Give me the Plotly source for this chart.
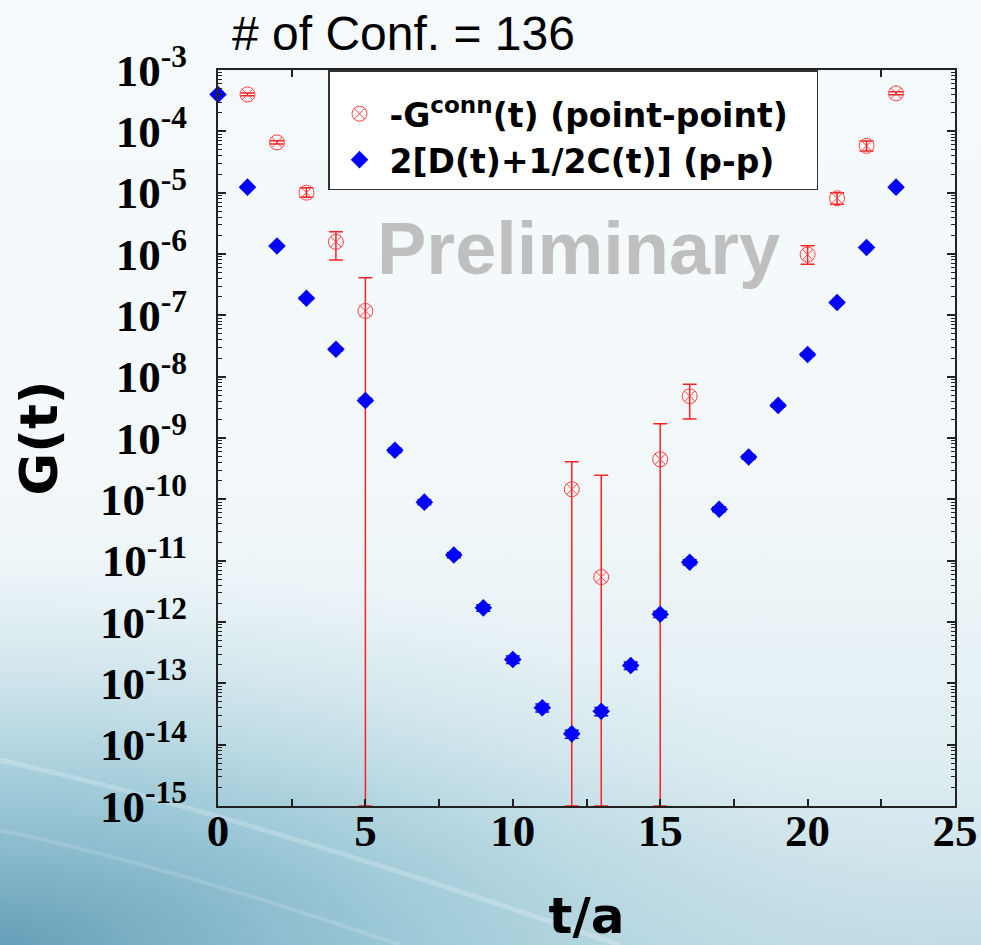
import base64
import plotly.graph_objects as go

# ---------------- data ----------------
t_vals = list(range(24))
blue_y = [4.0e-4, 1.23e-5, 1.35e-6, 1.9e-7, 2.8e-8, 4.1e-9, 6.3e-10, 9.0e-11,
          1.24e-11, 1.7e-12, 2.45e-13, 4.0e-14, 1.5e-14, 3.5e-14, 1.95e-13,
          1.34e-12, 9.4e-12, 6.9e-11, 4.9e-10, 3.4e-9, 2.3e-8, 1.62e-7,
          1.28e-6, 1.23e-5]
blue_err_rel = [0.02, 0.03, 0.04, 0.05, 0.06, 0.07, 0.08, 0.09, 0.10, 0.12,
                0.14, 0.15, 0.15, 0.15, 0.14, 0.12, 0.10, 0.09, 0.08, 0.07,
                0.06, 0.05, 0.04, 0.03]

red_t = [1, 2, 3, 4, 5, 12, 13, 15, 16, 20, 21, 22, 23]
red_y = [4.0e-4, 6.6e-5, 1.0e-5, 1.58e-6, 1.18e-7, 1.46e-10, 5.4e-12,
         4.5e-10, 4.8e-9, 9.8e-7, 8.1e-6, 5.8e-5, 4.17e-4]
red_hi = [4.2e-4, 7.0e-5, 1.2e-5, 2.3e-6, 4.1e-7, 4.1e-10, 2.47e-10,
          1.7e-9, 7.55e-9, 1.36e-6, 1.0e-5, 6.95e-5, 4.4e-4]
# None: lower end of the error bar falls below zero (off the log scale)
red_lo = [3.8e-4, 6.2e-5, 8.4e-6, 8.0e-7, None, None, None, None, 2.05e-9,
          6.8e-7, 6.5e-6, 4.8e-5, 3.95e-4]

x_ticks = [0, 5, 10, 15, 20, 25]
y_exps = list(range(-15, -2))
y_ticktext = ["10<sup>%d</sup>" % e for e in y_exps]

Y_MIN_EXP, Y_MAX_EXP = -15, -3
y_floor = 10.0 ** Y_MIN_EXP

# ---------------- background (decorative gradient) ----------------
W, H = 981, 945
svg = f"""<svg xmlns='http://www.w3.org/2000/svg' width='{W}' height='{H}' viewBox='0 0 {W} {H}'>
<defs>
<linearGradient id='v' x1='0' y1='0' x2='0' y2='1'>
<stop offset='0' stop-color='#f6fafc'/>
<stop offset='0.5' stop-color='#f3f8fa'/>
<stop offset='0.8' stop-color='#e0eef2'/>
<stop offset='1' stop-color='#c2dce5'/>
</linearGradient>
<radialGradient id='r' gradientUnits='userSpaceOnUse' cx='0' cy='{H}' r='760'
 gradientTransform='translate(0,{H}) scale(1.25,0.5) translate(0,-{H})'>
<stop offset='0' stop-color='#659fb8' stop-opacity='1'/>
<stop offset='0.45' stop-color='#93c4d4' stop-opacity='0.75'/>
<stop offset='1' stop-color='#c8e1e9' stop-opacity='0'/>
</radialGradient>
</defs>
<rect width='{W}' height='{H}' fill='url(#v)'/>
<rect width='{W}' height='{H}' fill='url(#r)'/>
<path d='M0,760 C180,800 400,870 620,945' stroke='white' stroke-opacity='0.22' stroke-width='5' fill='none'/>
<path d='M0,830 C140,860 300,910 400,945' stroke='white' stroke-opacity='0.15' stroke-width='4' fill='none'/>
</svg>"""
bg_uri = "data:image/svg+xml;base64," + base64.b64encode(svg.encode()).decode()

# ---------------- geometry ----------------
L, R, T, B = 218, 26, 70, 139
pw, ph = W - L - R, H - T - B

# ---------------- traces ----------------
red_plus = [h - y for h, y in zip(red_hi, red_y)]
red_minus = [y - (lo if lo is not None else y_floor) for lo, y in zip(red_lo, red_y)]
blue_err = [y * r for y, r in zip(blue_y, blue_err_rel)]

fig = go.Figure()
fig.add_trace(go.Scatter(
    x=red_t, y=red_y, mode="markers",
    name="-G<sup>conn</sup>(t) (point-point)\u00a0\u00a0",
    legendgroup="a",
    marker=dict(symbol="circle-x-open", size=15, color="#ff4040",
                line=dict(width=1, color="#ff4040")),
    error_y=dict(type="data", symmetric=False, array=red_plus,
                 arrayminus=red_minus, color="#ff2020", thickness=1.5, width=7),
    cliponaxis=False,
))
fig.add_trace(go.Scatter(
    x=t_vals, y=blue_y, mode="markers",
    name="2[D(t)+1/2C(t)] (p-p)",
    legendgroup="b",
    marker=dict(symbol="diamond", size=13.5, color="#0000ff",
                line=dict(width=0)),
    error_y=dict(type="data", array=blue_err, color="#0000ff",
                 thickness=1.5, width=7),
    cliponaxis=False,
))

# minor log ticks
minor_y = [m * 10.0 ** e for e in range(Y_MIN_EXP, Y_MAX_EXP) for m in range(2, 10)]

tick_font = dict(family="Liberation Serif, Times New Roman, serif", size=45,
                 color="black", weight=700)

fig.update_layout(
    width=W, height=H,
    margin=dict(l=L, r=R, t=T, b=B, pad=0, autoexpand=False),
    paper_bgcolor="#f5f9fb",
    plot_bgcolor="rgba(0,0,0,0)",
    images=[dict(source=bg_uri, xref="paper", yref="paper",
                 x=-L / pw, y=1 + T / ph, sizex=W / pw, sizey=H / ph,
                 xanchor="left", yanchor="top", sizing="stretch",
                 layer="below")],
    title=dict(text="# of Conf. = 136", xref="container", yref="container",
               x=232 / W, xanchor="left", y=1 - 33 / H, yanchor="middle",
               font=dict(family="Liberation Sans, Arial, sans-serif",
                         size=48, color="black")),
    showlegend=True,
    legend=dict(x=(328 - L) / pw, y=1, xanchor="left", yanchor="top",
                bgcolor="white", bordercolor="#333333", borderwidth=1.5,
                font=dict(family="DejaVu Sans, sans-serif", size=33,
                          color="black", weight=700),
                title=dict(text="\u00a0", font=dict(size=11)),
                itemwidth=50,
                tracegroupgap=0, traceorder="grouped"),
    xaxis=dict(range=[0, 25], tickvals=x_ticks, ticktext=[str(v) for v in x_ticks],
               ticks="inside", ticklen=7, tickwidth=1.5, tickcolor="#222",
               showline=True, linecolor="#222", linewidth=2, mirror="allticks",
               showgrid=False, zeroline=False, automargin=False,
               ticklabelstandoff=-16, ticklabeloverflow="allow",
               minor=dict(tickvals=[2.5, 7.5, 12.5, 17.5, 22.5], ticks="inside",
                          ticklen=7, tickwidth=1.5, tickcolor="#222", showgrid=False),
               tickfont=tick_font,
               title=dict(text="t/a", standoff=44,
                          font=dict(family="DejaVu Sans, sans-serif", size=50,
                                    color="black", weight=700))),
    yaxis=dict(type="log", range=[Y_MIN_EXP, Y_MAX_EXP],
               tickvals=[10.0 ** e for e in y_exps], ticktext=y_ticktext,
               ticks="inside", ticklen=8, tickwidth=1.5, tickcolor="#222",
               showline=True, linecolor="#222", linewidth=2, mirror="allticks",
               showgrid=False, zeroline=False, automargin=False,
               ticklabelstandoff=20, ticklabeloverflow="allow",
               minor=dict(tickvals=minor_y, ticks="inside", ticklen=4,
                          tickwidth=1, tickcolor="#222", showgrid=False),
               tickfont=tick_font,
               title=dict(text="G(t)", standoff=26,
                          font=dict(family="DejaVu Sans, sans-serif", size=52,
                                    color="black", weight=700))),
    annotations=[dict(text="Preliminary", xref="paper", yref="paper",
                      x=(578 - L) / pw, y=1 - (249 - T) / ph,
                      xanchor="center", yanchor="middle", showarrow=False,
                      font=dict(family="Liberation Sans, Arial, sans-serif",
                                size=74, color="#bfbfbf", weight=700))],
)

fig.write_html("out.html",
               config={"displayModeBar": False},
               post_script="document.body.style.margin='0';"
                           "document.body.style.overflow='hidden';")
